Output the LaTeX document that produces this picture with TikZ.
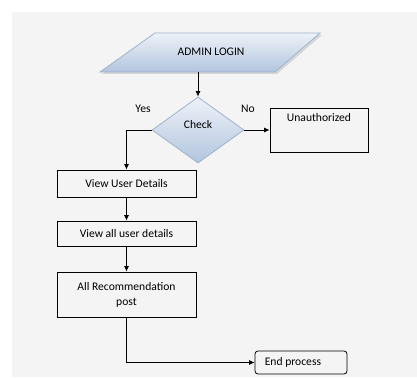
\documentclass[tikz,border=0pt]{standalone}
\usepackage{fontspec}
\setmainfont{Carlito}
\usetikzlibrary{arrows.meta,shapes.geometric}
\definecolor{bgc}{HTML}{F4F4F4}
\definecolor{shtop}{HTML}{EEF2F8}
\definecolor{shbot}{HTML}{B2C5DE}
\definecolor{shline}{HTML}{9DB2CF}
\definecolor{shadowc}{HTML}{D6D6D6}
\tikzset{
  txt/.style={font=\fontsize{11.6}{14}\selectfont, inner sep=0pt},
  box/.style={draw=black, line width=0.8pt, fill=bgc, inner sep=0pt, txt},
  endbox/.style={box, rounded corners=3pt},
  dec/.style={shape=diamond, draw=shline, line width=0.8pt, top color=shtop, bottom color=shbot, inner sep=0pt, minimum width=92pt, minimum height=66pt},
  conn/.style={draw=black, line width=0.8pt, -{Latex[length=5.5pt,width=5pt]}},
}
\begin{document}
\begin{tikzpicture}[x=1pt,y=-1pt]
\useasboundingbox (0,0) rectangle (417,377);
\fill[bgc] (12,12) rectangle (417,377);
% parallelogram
\fill[shadowc] (157,35) -- (322,35) -- (277,74) -- (102,74) -- cycle;
\path[draw=shline, line width=0.8pt, top color=shtop, bottom color=shbot] (155,33) -- (320,33) -- (275,72) -- (100,72) -- cycle;
\node[txt] (login) at (211,52) {ADMIN LOGIN};
\coordinate (loginB) at (198,72);
% diamond
\node[dec] (chk) at (198,130) {};
\node[txt] (chkT) at (198,124.5) {Check};
\node[txt] (yes) at (143,109) {Yes};
\node[txt] (no) at (248,109) {No};
% boxes
\node[box, minimum width=98pt, minimum height=44pt] (unauth) at (319,130) {};
\node[txt, anchor=north] (unauthT) at ([yshift=-6pt]unauth.north) {Unauthorized};
\node[box, minimum width=139pt, minimum height=27pt] (view1) at (126.5,183.5) {View User Details};
\node[box, minimum width=139pt, minimum height=25pt] (view2) at (126.5,233.5) {View all user details};
\node[box, minimum width=139pt, minimum height=45pt, align=center] (rec) at (126.5,294.5) {All Recommendation\\[1pt]post};
\node[endbox, minimum width=92pt, minimum height=23pt] (end) at (301,362.5) {};
\node[txt, anchor=west] (endT) at ([xshift=10pt]end.west) {End process};
% connectors
\draw[conn] (loginB) -- (chk.north);
\draw[conn] (chk.east) -- (unauth.west);
\draw[conn] (chk.west) -| (view1.north);
\draw[conn] (view1.south) -- (view2.north);
\draw[conn] (view2.south) -- (rec.north);
\draw[conn] (rec.south) |- (end.west);
\end{tikzpicture}
\end{document}
